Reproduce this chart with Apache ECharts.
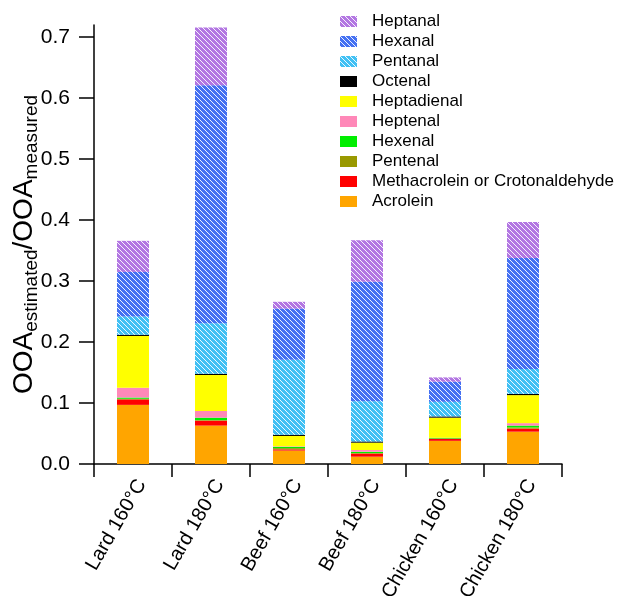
<!DOCTYPE html>
<html>
<head>
<meta charset="utf-8">
<script src="https://cdn.jsdelivr.net/npm/echarts@6/dist/echarts.min.js"></script>
<style>
  html, body { margin: 0; padding: 0; background: #fff; }
  #chart { width: 619px; height: 596px; }
</style>
</head>
<body>
<div id="chart"></div>
<script>
// Cooking-oil samples on the category axis
const categories = ['Lard 160°C', 'Lard 180°C', 'Beef 160°C', 'Beef 180°C', 'Chicken 160°C', 'Chicken 180°C'];

// Contribution of each aldehyde to OOA_estimated/OOA_measured (stacked, bottom to top)
const acrolein     = [0.097, 0.063, 0.022, 0.012, 0.038, 0.053];
const methacrolein = [0.009, 0.008, 0.002, 0.005, 0.003, 0.005];
const pentenal     = [0.001, 0.001, 0.002, 0.001, 0.001, 0.002];
const hexenal      = [0.002, 0.004, 0.002, 0.002, 0.001, 0.003];
const heptenal     = [0.016, 0.011, 0.001, 0.003, 0.000, 0.004];
const heptadienal  = [0.085, 0.059, 0.017, 0.012, 0.033, 0.046];
const octenal      = [0.002, 0.002, 0.002, 0.002, 0.002, 0.002];
const pentanal     = [0.030, 0.083, 0.123, 0.066, 0.024, 0.041];
const hexanal      = [0.073, 0.390, 0.084, 0.196, 0.033, 0.182];
const heptanal     = [0.051, 0.095, 0.011, 0.068, 0.007, 0.059];

// Value-axis tick labels
const yTicks = [0, 0.1, 0.2, 0.3, 0.4, 0.5, 0.6, 0.7];

const FONT = '"Liberation Sans", Arial, sans-serif';

// White diagonal hatching over a solid fill
function hatch(color) {
  const p = 5;
  const c = document.createElement('canvas');
  c.width = p; c.height = p;
  const g = c.getContext('2d');
  g.fillStyle = color;
  g.fillRect(0, 0, p, p);
  g.strokeStyle = 'rgba(255,255,255,0.9)';
  g.lineWidth = 1;
  g.beginPath();
  g.moveTo(-1, -1); g.lineTo(p + 1, p + 1);
  g.moveTo(-2, p - 2); g.lineTo(2, p + 2);
  g.moveTo(p - 2, -2); g.lineTo(p + 2, 2);
  g.stroke();
  return { image: c, repeat: 'repeat' };
}

const layers = [
  { name: 'Acrolein', data: acrolein, color: '#FFA500' },
  { name: 'Methacrolein or Crotonaldehyde', data: methacrolein, color: '#FF0000' },
  { name: 'Pentenal', data: pentenal, color: '#999900' },
  { name: 'Hexenal', data: hexenal, color: '#00EE00' },
  { name: 'Heptenal', data: heptenal, color: '#FF88B8' },
  { name: 'Heptadienal', data: heptadienal, color: '#FFFF00' },
  { name: 'Octenal', data: octenal, color: '#000000' },
  { name: 'Pentanal', data: pentanal, color: hatch('#40C0F4') },
  { name: 'Hexanal', data: hexanal, color: hatch('#4470F2') },
  { name: 'Heptanal', data: heptanal, color: hatch('#B276E2') }
];

const series = layers.map(l => ({
  name: l.name,
  type: 'bar',
  stack: 'total',
  barWidth: 32,
  data: l.data,
  itemStyle: { color: l.color },
  emphasis: { disabled: true }
}));

const chart = echarts.init(document.getElementById('chart'), null, { renderer: 'canvas' });
chart.setOption({
  animation: false,
  backgroundColor: '#ffffff',
  textStyle: { fontFamily: FONT },
  grid: { left: 94, right: 57, top: 25, bottom: 132, containLabel: false, outerBoundsMode: 'none' },
  legend: {
    orient: 'vertical',
    left: 335,
    top: 8,
    itemWidth: 17,
    itemHeight: 11,
    itemGap: 3,
    selectedMode: false,
    icon: 'rect',
    data: layers.map(l => l.name).reverse(),
    textStyle: { fontSize: 17, color: '#000', fontFamily: FONT, padding: [0, 0, 0, 10], lineHeight: 17 }
  },
  xAxis: {
    type: 'category',
    data: categories,
    offset: 2,
    axisLine: { lineStyle: { color: '#000', width: 1.5 } },
    axisTick: { show: true, length: 13, alignWithLabel: false, lineStyle: { color: '#000', width: 1.5 } },
    axisLabel: {
      interval: 0,
      rotate: 60,
      fontSize: 20,
      color: '#000',
      fontFamily: FONT,
      margin: 10,
      verticalAlign: 'top'
    }
  },
  yAxis: {
    type: 'value',
    min: 0,
    max: 0.72,
    interval: 0.1,
    name: '{b|OOA}{s|estimated}{b|/OOA}{s|measured}',
    nameLocation: 'middle',
    nameGap: 53,
    nameRotate: 90,
    nameMoveOverlap: false,
    nameTextStyle: {
      rich: {
        b: { fontSize: 28, lineHeight: 34, color: '#000', fontFamily: FONT },
        s: { fontSize: 19, lineHeight: 20, verticalAlign: 'bottom', color: '#000', fontFamily: FONT }
      }
    },
    splitLine: { show: false },
    axisLine: { show: true, lineStyle: { color: '#000', width: 1.5 } },
    axisTick: { show: true, length: 15, customValues: yTicks, lineStyle: { color: '#000', width: 1.5 } },
    axisLabel: {
      customValues: yTicks,
      fontSize: 21,
      color: '#000',
      fontFamily: FONT,
      margin: 24,
      formatter: v => v.toFixed(1)
    }
  },
  series: series
});
</script>
</body>
</html>
